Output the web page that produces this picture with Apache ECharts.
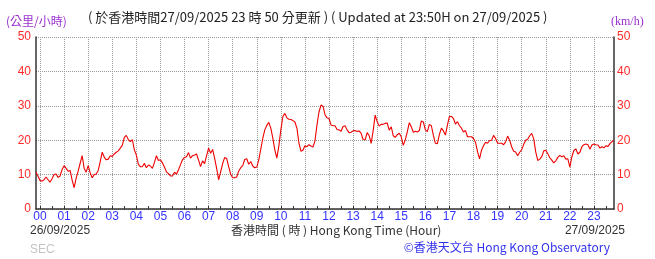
<!DOCTYPE html>
<html><head><meta charset="utf-8">
<script src="https://cdn.jsdelivr.net/npm/echarts@6/dist/echarts.min.js"></script>
<style>html,body{margin:0;padding:0;background:#fff}#c{width:655px;height:259px}</style>
</head><body><div id="c"></div>
<script>
// time axis: 5-minute steps from 23:50 (26/09) to 23:50 (27/09)
const startMinute = -10;
const stepMinutes = 5;
const hourLabels = ['00','01','02','03','04','05','06','07','08','09','10','11','12','13','14','15','16','17','18','19','20','21','22','23'];
const yTicks = [0, 10, 20, 30, 40, 50];
// 10-minute mean wind speed (km/h), 5-minute steps
const windSpeed = [
10.7,9.5,8.3,8.1,8.5,9.3,8.5,7.8,8.8,10.0,
10.2,9.2,9.6,11.5,12.6,11.8,11.0,11.2,8.4,6.2,
9.0,11.0,13.3,15.5,11.8,10.7,12.6,10.5,9.1,10.0,
10.2,11.2,13.8,16.5,15.1,14.3,14.5,15.5,15.3,16.0,
16.5,16.9,17.7,18.5,20.8,21.4,20.2,19.6,20.2,17.2,
15.7,13.0,12.3,12.3,13.3,12.0,12.8,12.5,11.8,13.5,
15.5,14.1,14.3,13.4,12.2,10.8,10.3,9.6,9.6,10.7,
10.1,11.4,12.9,14.3,15.0,15.2,16.4,14.8,15.5,15.7,
16.0,14.2,12.3,14.0,13.2,15.5,17.7,16.2,17.3,14.8,
11.8,8.5,10.8,13.2,15.0,14.7,12.3,10.1,9.1,9.1,
9.3,11.0,12.0,12.6,14.4,14.6,13.0,13.8,12.5,12.0,
12.2,14.3,17.4,20.5,23.0,24.3,25.2,23.5,20.6,17.2,
14.8,18.3,23.0,26.9,27.8,26.5,26.1,26.0,25.7,25.3,
23.5,19.2,16.8,17.1,18.4,18.1,18.7,18.3,18.0,19.8,
24.4,28.2,30.2,29.9,27.4,26.5,26.3,24.4,24.2,24.2,
23.1,23.0,22.6,24.0,24.2,23.0,22.2,22.3,22.7,22.8,
22.5,22.7,22.0,20.2,20.1,22.2,21.3,19.1,22.8,27.3,
25.4,24.1,24.6,24.6,24.9,25.0,22.9,23.9,21.3,20.8,
21.6,22.0,21.0,18.5,20.1,22.4,25.1,23.9,22.3,22.6,
22.4,22.8,25.6,25.3,23.0,22.5,24.6,24.2,21.4,19.1,
19.0,21.7,23.5,22.7,21.5,24.4,26.9,26.9,26.3,24.7,
25.4,24.2,23.5,22.4,22.8,21.0,21.0,21.0,20.5,19.4,
16.7,14.6,17.1,18.4,19.4,19.1,19.9,20.0,21.4,20.5,
19.1,19.1,19.1,18.7,19.5,21.2,20.0,18.1,16.8,16.6,
15.5,16.5,17.2,18.8,20.0,20.3,21.3,22.0,20.4,16.6,
14.1,14.5,15.2,16.9,17.1,16.1,14.9,14.2,13.4,14.0,
15.0,15.6,15.2,15.5,14.5,14.6,12.2,15.2,17.0,17.5,
16.0,16.5,18.1,18.7,18.9,18.7,17.4,18.6,18.9,18.7,
18.6,17.7,18.1,17.8,18.4,18.2,19.0,19.6,19.9
];
const timeCategories = windSpeed.map((_, i) => {
  const m = startMinute + i * stepMinutes;
  const h = ((Math.floor(m / 60) % 24) + 24) % 24;
  const mm = ((m % 60) + 60) % 60;
  return String(h).padStart(2, '0') + ':' + String(mm).padStart(2, '0');
});
const isHour = (idx) => timeCategories[idx] && timeCategories[idx].slice(3) === '00';
const isHalfHour = (idx) => timeCategories[idx] && (timeCategories[idx].slice(3) === '00' || timeCategories[idx].slice(3) === '30');

const chart = echarts.init(document.getElementById('c'), null, {renderer: 'canvas'});
const baseFont = '"Liberation Sans", Arial, "Noto Sans CJK TC", sans-serif';
const cjkFont = '"Noto Sans CJK TC", "Liberation Sans", sans-serif';
chart.setOption({
  animation: false,
  backgroundColor: '#ffffff',
  grid: {left: 36, right: 41, top: 37, bottom: 50, containLabel: false},
  xAxis: {
    type: 'category',
    data: timeCategories,
    boundaryGap: false,
    axisLine: {show: true, lineStyle: {color: '#333', width: 1.5}},
    axisTick: {show: true, inside: true, length: 3, interval: (i) => isHalfHour(i), lineStyle: {color: '#333'}},
    axisLabel: {
      interval: (i) => isHour(i),
      formatter: (v) => hourLabels[parseInt(v.slice(0, 2), 10)],
      color: '#3333ff', fontSize: 12, margin: 2, fontFamily: baseFont
    },
    splitLine: {show: true, interval: (i) => isHour(i), lineStyle: {color: '#999', type: 'dotted', width: 1}}
  },
  yAxis: [{
    type: 'value', min: yTicks[0], max: yTicks[yTicks.length - 1], interval: 10, position: 'left',
    axisLine: {show: true, lineStyle: {color: '#333', width: 1.5}},
    axisTick: {show: false},
    axisLabel: {color: '#ff2a2a', fontSize: 12, margin: 5, fontFamily: '"Liberation Sans Narrow", "Liberation Sans", sans-serif'},
    splitLine: {show: true, lineStyle: {color: '#999', type: 'dotted', width: 1}}
  }, {
    type: 'value', min: yTicks[0], max: yTicks[yTicks.length - 1], interval: 10, position: 'right',
    axisLine: {show: true, lineStyle: {color: '#333', width: 1.5}},
    axisTick: {show: false},
    axisLabel: {color: '#ff2a2a', fontSize: 12, margin: 3, fontFamily: '"Liberation Sans Narrow", "Liberation Sans", sans-serif'},
    splitLine: {show: false}
  }],
  series: [{
    type: 'line', data: windSpeed, showSymbol: false, symbol: 'none',
    lineStyle: {color: '#ee0000', width: 1.1}, yAxisIndex: 0
  }],
  graphic: [
    {type: 'text', left: 88, top: 11, style: {text: '( 於香港時間27/09/2025 23 時 50 分更新 ) ( Updated at 23:50H on 27/09/2025 )', fill: '#222', font: '13px ' + cjkFont}},
    {type: 'text', left: 6, top: 15, style: {text: '(公里/小時)', fill: '#9b30d0', font: '12px ' + cjkFont}},
    {type: 'text', left: 611, top: 16, style: {text: '(km/h)', fill: '#9b30d0', font: '12px "Liberation Serif", serif'}},
    {type: 'text', left: 30, top: 225, style: {text: '26/09/2025', fill: '#333', font: '12px ' + baseFont}},
    {type: 'text', left: 231, top: 224, style: {text: '香港時間 ( 時 ) Hong Kong Time (Hour)', fill: '#333', font: '12px ' + cjkFont}},
    {type: 'text', right: 30, top: 225, style: {text: '27/09/2025', fill: '#333', font: '12px ' + baseFont}},
    {type: 'text', left: 30, top: 244, style: {text: 'SEC', fill: '#c4c4c4', font: '12px ' + baseFont}},
    {type: 'text', right: 45, top: 241, style: {text: '©香港天文台 Hong Kong Observatory', fill: '#3333ee', font: '12px ' + cjkFont}}
  ]
});
</script></body></html>
